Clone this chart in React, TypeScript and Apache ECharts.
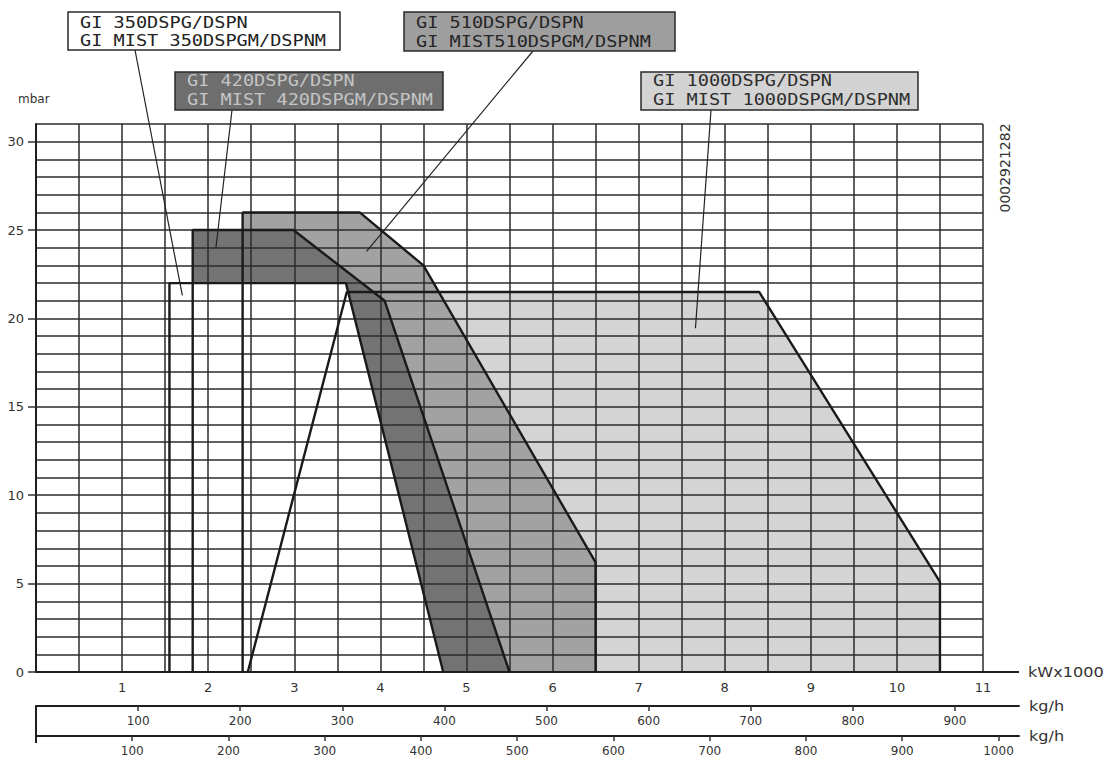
import React, { useEffect, useRef } from "react";
import * as echarts from "echarts";

// ---- data ----
const kwLabels = [1, 2, 3, 4, 5, 6, 7, 8, 9, 10, 11];
const mbarLabels = [0, 5, 10, 15, 20, 25, 30];
const kgLabelsA = [100, 200, 300, 400, 500, 600, 700, 800, 900];
const kgLabelsB = [100, 200, 300, 400, 500, 600, 700, 800, 900, 1000];
// heating values (kWh/kg) linking the kW scale to the two kg/h scales
const HV_A = 11.86;
const HV_B = 11.18;

// working fields [kW x 1000, mbar]
const gi350 = [[1.55, 0], [1.55, 22], [3.6, 22], [4.73, 0]];
const gi420 = [[1.82, 0], [1.82, 25], [2.99, 25], [4.05, 21], [5.5, 0]];
const gi510 = [[2.4, 0], [2.4, 26], [3.76, 26], [4.5, 23], [6.5, 6.2], [6.5, 0]];
const gi1000 = [[2.46, 0], [3.61, 21.5], [8.4, 21.5], [10.5, 5.1], [10.5, 0]];

const text350 = ["GI 350DSPG/DSPN", "GI MIST 350DSPGM/DSPNM"];
const text420 = ["GI 420DSPG/DSPN", "GI MIST 420DSPGM/DSPNM"];
const text510 = ["GI 510DSPG/DSPN", "GI MIST510DSPGM/DSPNM"];
const text1000 = ["GI 1000DSPG/DSPN", "GI MIST 1000DSPGM/DSPNM"];

// leader-line targets in data coordinates
const anchor350 = [1.7, 21.3];
const anchor420 = [2.09, 24.0];
const anchor510 = [3.84, 23.8];
const anchor1000 = [7.66, 19.45];

const drawingCode = "0002921282";

// ---- layout / styles ----
const GRID_LEFT = 36;
const GRID_TOP = 124;
const GRID_W = 947;
const GRID_H = 548;
const EXT_W = 983;
const X_MAX = 11;
const Y_MAX = 31;

const boxes = [
  { lines: text350, anchor: anchor350, x: 68, y: 12, w: 272, h: 38, fill: "#ffffff", color: "#222", from: [135, 50], ty: [22.5, 41] },
  { lines: text420, anchor: anchor420, x: 175, y: 72, w: 268, h: 38, fill: "#6e6e6e", color: "#c4c4c4", from: [232, 110], ty: [81, 100] },
  { lines: text510, anchor: anchor510, x: 404, y: 12, w: 271, h: 39, fill: "#9e9e9e", color: "#262626", from: [533, 51], ty: [22.5, 41.5] },
  { lines: text1000, anchor: anchor1000, x: 641, y: 72, w: 277, h: 38, fill: "#d3d3d3", color: "#2e2e2e", from: [711, 110], ty: [81, 100] },
];

const fills = [
  { data: gi1000, color: "#d4d4d4" },
  { data: gi510, color: "#a2a2a2" },
  { data: gi420, color: "#737373" },
  { data: gi350, color: "#ffffff" },
];

const FONT = "DejaVu Sans";
const MONO = "DejaVu Sans Mono";

export default function App() {
  const ref = useRef<HTMLDivElement>(null);
  useEffect(() => {
    document.body.style.margin = "0";
    const chart = echarts.init(ref.current as HTMLDivElement, null, { renderer: "svg" });
    const extMaxKw = (X_MAX * EXT_W) / GRID_W;
    const gridLine = { color: "#2b2b2b", width: 1.5 };
    const option: any = {
      animation: false,
      backgroundColor: "#ffffff",
      grid: [
        { left: GRID_LEFT, top: GRID_TOP, width: GRID_W, height: GRID_H },
        { left: GRID_LEFT, top: 705, width: EXT_W, height: 1 },
        { left: GRID_LEFT, top: 735, width: EXT_W, height: 1 },
      ],
      xAxis: [
        {
          gridIndex: 0, type: "value", min: 0, max: X_MAX, interval: 0.5, z: 2,
          axisLine: { onZero: false, lineStyle: { color: "#1e1e1e", width: 2 } },
          axisTick: { show: false },
          splitLine: { show: true, lineStyle: gridLine },
          axisLabel: {
            customValues: kwLabels, margin: 9, fontSize: 13, color: "#333", fontFamily: FONT,
            formatter: (v: number) => (Number.isInteger(v) && v > 0 ? String(v) : ""),
          },
        },
        {
          gridIndex: 1, type: "value", min: 0, max: (extMaxKw * 1000) / HV_A, interval: 100,
          axisLine: { onZero: false, lineStyle: { color: "#1e1e1e", width: 2 } },
          axisTick: { customValues: kgLabelsA, length: 5, lineStyle: { color: "#333", width: 1.5 } },
          splitLine: { show: false },
          axisLabel: {
            customValues: kgLabelsA, margin: 9, fontSize: 12, color: "#333", fontFamily: FONT,
            formatter: (v: number) => (v > 0 && v % 100 === 0 ? String(v) : ""),
          },
        },
        {
          gridIndex: 2, type: "value", min: 0, max: (extMaxKw * 1000) / HV_B, interval: 100,
          axisLine: { onZero: false, lineStyle: { color: "#1e1e1e", width: 2 } },
          axisTick: { customValues: kgLabelsB, length: 5, lineStyle: { color: "#333", width: 1.5 } },
          splitLine: { show: false },
          axisLabel: {
            customValues: kgLabelsB, margin: 9, fontSize: 12, color: "#333", fontFamily: FONT,
            formatter: (v: number) => (v > 0 && v % 100 === 0 ? String(v) : ""),
          },
        },
      ],
      yAxis: [
        {
          gridIndex: 0, type: "value", min: 0, max: Y_MAX, interval: 1, z: 2,
          axisLine: { show: true, onZero: false, lineStyle: { color: "#1e1e1e", width: 2 } },
          axisTick: { show: false },
          splitLine: { show: true, lineStyle: gridLine },
          axisLabel: { show: false },
        },
        { gridIndex: 1, type: "value", show: false },
        { gridIndex: 2, type: "value", show: false },
        {
          gridIndex: 0, type: "value", min: 0, max: Y_MAX, interval: 5, position: "left", z: 2,
          axisLine: { show: false, onZero: false },
          axisTick: { show: true, customValues: mbarLabels, length: 8, lineStyle: { color: "#333", width: 1.5 } },
          splitLine: { show: false },
          axisLabel: {
            customValues: mbarLabels, margin: 12, fontSize: 13, color: "#333", fontFamily: FONT,
            formatter: (v: number) => (v % 5 === 0 && v <= 30 ? String(v) : ""),
          },
        },
      ],
      series: [
        ...fills.map((f) => ({
          type: "line", xAxisIndex: 0, yAxisIndex: 0, data: f.data, symbol: "none", silent: true, z: 1,
          lineStyle: { width: 0, opacity: 0 },
          areaStyle: { color: f.color, opacity: 1 },
        })),
        ...fills.map((f) => ({
          type: "line", xAxisIndex: 0, yAxisIndex: 0, data: f.data, symbol: "none", silent: true, z: 4,
          lineStyle: { width: 2.4, color: "#1a1a1a" },
        })),
      ],
    };
    chart.setOption(option);

    const graphics: any[] = [];
    const gridRight = GRID_LEFT + GRID_W;
    const extRight = GRID_LEFT + EXT_W;
    const axisY = GRID_TOP + GRID_H;
    graphics.push({ type: "line", z: 10, shape: { x1: gridRight, y1: axisY, x2: extRight, y2: axisY }, style: { stroke: "#1e1e1e", lineWidth: 2 } });
    graphics.push({ type: "line", z: 10, shape: { x1: GRID_LEFT, y1: 706, x2: GRID_LEFT, y2: 743 }, style: { stroke: "#1e1e1e", lineWidth: 2 } });
    const sideText = (t: string, x: number, y: number) => ({
      type: "text", z: 10, x, y, scaleX: 1.15,
      style: { text: t, fill: "#333", fontSize: 14, fontFamily: FONT, align: "left", verticalAlign: "middle" },
    });
    graphics.push(sideText("kWx1000", 1028, axisY));
    graphics.push(sideText("kg/h", 1029, 706));
    graphics.push(sideText("kg/h", 1029, 736));
    graphics.push({
      type: "text", z: 10, x: 18, y: 99,
      style: { text: "mbar", fill: "#333", fontSize: 12, fontFamily: FONT, align: "left", verticalAlign: "middle" },
    });
    graphics.push({
      type: "text", z: 10, x: 1005, y: 168, rotation: Math.PI / 2,
      style: { text: drawingCode, fill: "#333", fontSize: 14, fontFamily: FONT, align: "center", verticalAlign: "middle" },
    });

    boxes.forEach((b) => {
      const p = chart.convertToPixel({ gridIndex: 0 } as any, b.anchor) as number[];
      graphics.push({ type: "line", z: 11, shape: { x1: b.from[0], y1: b.from[1], x2: p[0], y2: p[1] }, style: { stroke: "#222", lineWidth: 1.2 } });
      graphics.push({ type: "rect", z: 11, shape: { x: b.x, y: b.y, width: b.w, height: b.h }, style: { fill: b.fill, stroke: "#2a2a2a", lineWidth: 1.5 } });
      b.lines.forEach((t, i) => {
        graphics.push({
          type: "text", z: 12, x: b.x + 12, y: b.ty[i], scaleX: 1.24,
          style: { text: t, fill: b.color, fontSize: 15, fontFamily: MONO, align: "left", verticalAlign: "middle" },
        });
      });
    });
    chart.setOption({ graphic: graphics });

    return () => chart.dispose();
  }, []);
  return <div ref={ref} style={{ width: 1113, height: 765 }} />;
}
